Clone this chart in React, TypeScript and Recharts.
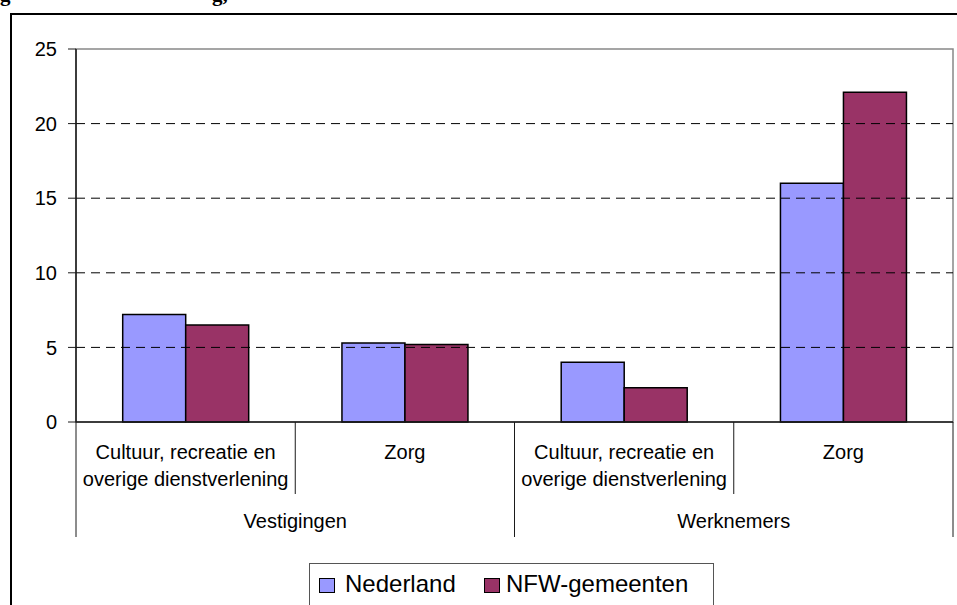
import React from "react";
import { BarChart, Bar, XAxis, YAxis, ReferenceLine, ReferenceArea, Legend } from "recharts";

const categories = [
  "Cultuur, recreatie en|overige dienstverlening",
  "Zorg",
  "Cultuur, recreatie en|overige dienstverlening",
  "Zorg",
];
const groups = ["Vestigingen", "Vestigingen", "Werknemers", "Werknemers"];
const nederland = [7.2, 5.3, 4.0, 16.0];
const nfw = [6.5, 5.2, 2.3, 22.1];
const yTicks = [0, 5, 10, 15, 20, 25];
const gridValues = [5, 10, 15, 20];
const seriesNames = ["Nederland", "NFW-gemeenten"];
const colors = ["#9999FF", "#993366"];

const data = categories.map((c, i) => ({
  id: "c" + i,
  label: c,
  group: groups[i],
  nederland: nederland[i],
  nfw: nfw[i],
}));

const W = 957;
const H = 605;
const FONT = "'Liberation Sans', Arial, sans-serif";
const AXIS = "#1a1a1a";

const XTick = (props: any) => {
  const { x, y, payload, index } = props;
  const i = typeof index === "number" ? index : payload.index;
  const half = payload && payload.offset ? payload.offset : (953 - 76) / data.length / 2;
  const d = data[i];
  if (!d) return null;
  const lines = d.label.split("|");
  const groupStart = i === 0 || groups[i] !== groups[i - 1];
  const isLast = i === data.length - 1;
  let count = 0;
  if (groupStart) {
    for (let k = i; k < groups.length && groups[k] === groups[i]; k++) count++;
  }
  return (
    <g>
      {lines.map((ln: string, k: number) => (
        <text
          key={k}
          x={x}
          y={y + 37 + k * 27}
          textAnchor="middle"
          fontFamily={FONT}
          fontSize={20}
          fill="#000"
        >
          {ln}
        </text>
      ))}
      <line x1={x - half} x2={x - half} y1={y} y2={y + (groupStart ? 115 : 72)} stroke={AXIS} strokeWidth={1} />
      {isLast && <line x1={x + half} x2={x + half} y1={y} y2={y + 115} stroke={AXIS} strokeWidth={1} />}
      {groupStart && (
        <text
          x={x - half + count * half}
          y={y + 106}
          textAnchor="middle"
          fontFamily={FONT}
          fontSize={20}
          fill="#000"
        >
          {groups[i]}
        </text>
      )}
    </g>
  );
};

const LegendContent = (props: any) => {
  const raw = props.payload || [];
  const payload = [...raw].sort(
    (a: any, b: any) => seriesNames.indexOf(a.value) - seriesNames.indexOf(b.value)
  );
  return (
    <div
      style={{
        width: 405,
        height: 60,
        border: "1px solid #555",
        boxSizing: "border-box",
        position: "relative",
        background: "#fff",
        fontFamily: FONT,
        fontSize: 24,
        color: "#000",
      }}
    >
      {payload.map((p: any, k: number) => (
        <div
          key={k}
          style={{
            position: "absolute",
            left: k === 0 ? 9 : 174,
            top: 6,
            display: "flex",
            alignItems: "center",
            whiteSpace: "nowrap",
            lineHeight: "28px",
          }}
        >
          <span
            style={{
              display: "inline-block",
              width: 14,
              height: 13,
              background: p.color,
              border: "1px solid #000",
              marginRight: k === 0 ? 10 : 6,
              marginTop: 2,
            }}
          />
          <span>{p.value}</span>
        </div>
      ))}
    </div>
  );
};

export default function App() {
  return (
    <div style={{ position: "absolute", left: 0, top: 0, width: W, height: H, overflow: "hidden", background: "#fff" }}>
      <div
        style={{
          position: "absolute",
          left: 10,
          top: 13,
          width: 1000,
          height: 700,
          borderLeft: "2px solid #000",
          borderTop: "2px solid #000",
        }}
      />
      <svg style={{ position: "absolute", left: 0, top: 0 }} width={W} height={10}>
        <text x={0} y={1} fontFamily="'Liberation Serif', 'Times New Roman', serif" fontWeight="bold" fontSize={21} fill="#000">g</text>
        <text x={212} y={1} fontFamily="'Liberation Serif', 'Times New Roman', serif" fontWeight="bold" fontSize={21} fill="#000">g,</text>
      </svg>
      <div style={{ position: "absolute", left: 0, top: 0 }}>
        <BarChart
          width={W}
          height={H}
          data={data}
          margin={{ top: 49, right: 4, bottom: 0, left: 0 }}
          barCategoryGap="21.3%"
          barGap={0}
        >
          <ReferenceArea y1={0} y2={25} fill="none" stroke="#888" strokeWidth={1.5} ifOverflow="visible" />
          {gridValues.map((v) => (
            <ReferenceLine key={v} y={v} stroke="#000" strokeWidth={1} strokeDasharray="9 6" />
          ))}
          <XAxis
            dataKey="id"
            height={H - 422}
            tickSize={0}
            tickMargin={0}
            tickLine={false}
            axisLine={{ stroke: AXIS, strokeWidth: 1.5 }}
            tick={<XTick />}
            interval={0}
          />
          <YAxis
            width={76}
            domain={[0, 25]}
            ticks={yTicks}
            tickSize={8}
            tickMargin={11}
            tickLine={{ stroke: AXIS }}
            axisLine={{ stroke: AXIS, strokeWidth: 1.5 }}
            tick={{ fontFamily: FONT, fontSize: 20, fill: "#000" }}
            allowDecimals={false}
          />
          <Legend
            layout="horizontal"
            verticalAlign="middle"
            align="center"
            wrapperStyle={{ position: "absolute", left: 309, top: 563, width: 405 }}
            content={<LegendContent />}
          />
          <Bar dataKey="nederland" name={seriesNames[0]} fill={colors[0]} stroke="#000" strokeWidth={1.5} isAnimationActive={false} />
          <Bar dataKey="nfw" name={seriesNames[1]} fill={colors[1]} stroke="#000" strokeWidth={1.5} isAnimationActive={false} />
        </BarChart>
      </div>
    </div>
  );
}
